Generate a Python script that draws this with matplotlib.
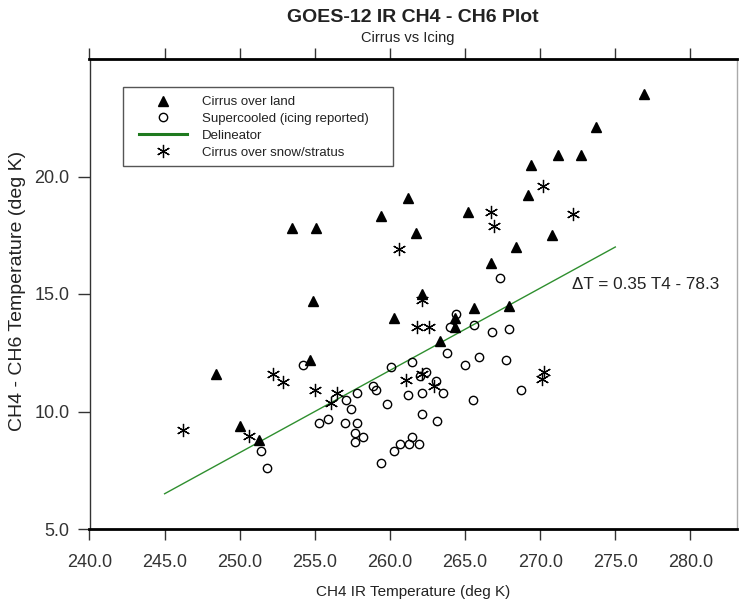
import matplotlib
matplotlib.use('Agg')
import matplotlib.pyplot as plt
from matplotlib.patches import Rectangle

plt.rcParams['font.family'] = ['Liberation Sans', 'DejaVu Sans']

# Cirrus over land (triangles)
land_x = [248.4, 250.0, 251.3, 253.5, 254.7, 254.9, 255.1, 259.4, 260.3, 261.2,
          261.7, 262.1, 263.3, 264.3, 264.3, 265.2, 265.6, 266.7, 267.9, 268.4,
          269.2, 269.4, 270.8, 271.2, 272.7, 273.7, 276.9]
land_y = [11.6, 9.4, 8.8, 17.8, 12.2, 14.7, 17.8, 18.3, 14.0, 19.1,
          17.6, 15.0, 13.0, 14.0, 13.6, 18.5, 14.4, 16.3, 14.5, 17.0,
          19.2, 20.5, 17.5, 20.9, 20.9, 22.1, 23.5]

# Supercooled, icing reported (open circles)
ice_x = [251.4, 251.8, 254.2, 255.3, 255.85, 257.0, 257.1, 257.4, 257.7, 257.7,
         257.8, 257.8, 258.2, 258.9, 259.1, 259.4, 259.8, 260.1, 260.3, 260.7,
         261.2, 261.3, 261.5, 261.5, 261.9, 262.0, 262.1, 262.1, 262.4, 263.05,
         263.15, 263.5, 263.8, 264.0, 264.4, 265.0, 265.5, 265.6, 265.9, 266.8,
         267.3, 267.7, 267.9, 268.7]
ice_y = [8.3, 7.6, 12.0, 9.5, 9.7, 9.5, 10.5, 10.1, 9.1, 8.7,
         10.8, 9.5, 8.9, 11.1, 10.9, 7.8, 10.3, 11.9, 8.3, 8.6,
         10.7, 8.6, 12.1, 8.9, 8.6, 11.5, 10.8, 9.9, 11.7, 11.3,
         9.6, 10.8, 12.5, 13.6, 14.15, 12.0, 10.5, 13.7, 12.3, 13.4,
         15.7, 12.2, 13.5, 10.9]

# Cirrus over snow/stratus (asterisks)
snow_x = [246.2, 250.6, 252.2, 252.9, 255.0, 256.1, 256.5, 260.6, 261.1, 261.8,
          262.1, 262.1, 262.6, 262.9, 266.7, 266.9, 270.1, 270.2, 270.25, 272.2]
snow_y = [9.2, 8.95, 11.6, 11.25, 10.9, 10.35, 10.8, 16.9, 11.35, 13.6,
          14.75, 11.6, 13.6, 11.1, 18.5, 17.9, 11.4, 19.6, 11.7, 18.4]

# Delineator line end points
delin_x = [245.0, 275.0]
delin_y = [6.5, 17.0]

xticks = [240, 245, 250, 255, 260, 265, 270, 275, 280]
yticks = [5, 10, 15, 20]

W, H = 739, 601
fig = plt.figure(figsize=(W / 100, H / 100), dpi=100)
ax = fig.add_axes([89.5 / W, 1 - 529 / H, (737 - 89.5) / W, (529 - 59) / H])

ax.plot(land_x, land_y, linestyle='none', marker='^', ms=7, color='black',
        label='Cirrus over land', zorder=3)
ax.plot(ice_x, ice_y, linestyle='none', marker='o', ms=6, mfc='none', mec='black',
        mew=1, label='Supercooled (icing reported)', zorder=3)
ax.plot(delin_x, delin_y, color='#2f8f2f', lw=1, label='Delineator', zorder=2)
ax.plot(snow_x, snow_y, linestyle='none', marker=(6, 2, 0), ms=9.5, color='black',
        mew=0.9, label='Cirrus over snow/stratus', zorder=3)

ax.text(272.1, 15.4, '\u0394T = 0.35 T4 - 78.3', fontsize=12.3, va='center',
        ha='left', color='#222222')

ax.set_xlim(240, 283.1)
ax.set_ylim(5, 25)
ax.set_xticks(xticks)
ax.set_xticklabels(['%.1f' % v for v in xticks])
ax.set_yticks(yticks)
ax.set_yticklabels(['%.1f' % v for v in yticks])
ax.tick_params(axis='both', direction='out', labelsize=13, colors='#333333')
ax.tick_params(axis='x', length=8, width=1, pad=10, top=True, labeltop=False)
ax.tick_params(axis='y', length=8.5, width=1, pad=6)

for s in ['top', 'bottom']:
    ax.spines[s].set_linewidth(2)
    ax.spines[s].set_color('black')
ax.spines['left'].set_linewidth(1)
ax.spines['left'].set_color('#333333')
ax.spines['right'].set_linewidth(1)
ax.spines['right'].set_color('#aaaaaa')

# legend box
ax.add_patch(Rectangle((0.0517, 0.773), 0.417, 0.167, transform=ax.transAxes,
                       facecolor='white', edgecolor='#555555', lw=1, zorder=4))
leg = ax.legend(loc='upper left', bbox_to_anchor=(0.0764, 0.921), frameon=False,
                fontsize=9.5, borderpad=0, borderaxespad=0, handlelength=3.64,
                handletextpad=1.1, labelspacing=0.34, numpoints=1)
leg.set_zorder(5)
for h in leg.legend_handles:
    if h.get_label() == 'Delineator':
        h.set_linewidth(2.2)
        h.set_color('#1f7a1f')
for t in leg.get_texts():
    t.set_color('#222222')

fig.text(413 / W, 1 - 17 / H, 'GOES-12 IR CH4 - CH6 Plot', ha='center', va='center',
         fontsize=14, fontweight='bold', color='#222222')
fig.text(408 / W, 1 - 38 / H, 'Cirrus vs Icing', ha='center', va='center',
         fontsize=10.5, color='#222222')
fig.text(413 / W, 1 - 592 / H, 'CH4 IR Temperature (deg K)', ha='center', va='center',
         fontsize=11, color='#222222')
fig.text(18 / W, 1 - 291 / H, 'CH4 - CH6 Temperature (deg K)', ha='center', va='center',
         rotation=90, fontsize=14, color='#222222')

fig.savefig('out.png', dpi=100)
